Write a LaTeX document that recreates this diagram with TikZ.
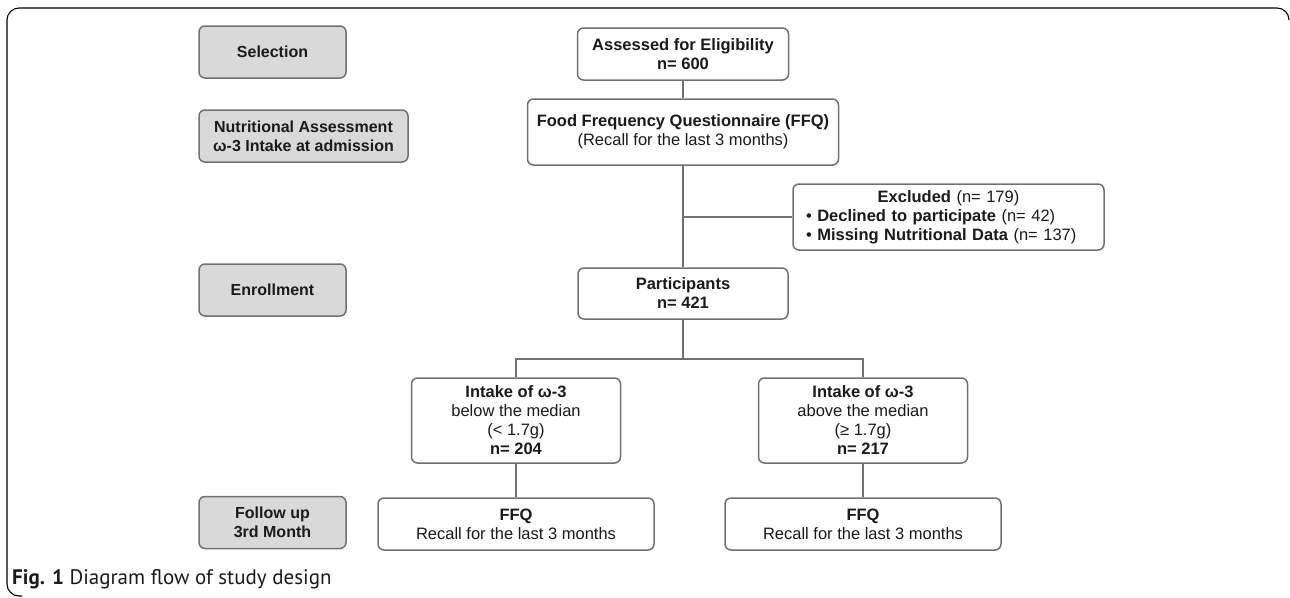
\documentclass[tikz,border=0pt]{standalone}
\usepackage{fontspec}
\setmainfont{Liberation Sans}
\newfontfamily\capfont{PT Sans}
\definecolor{edgegray}{HTML}{707070}
\definecolor{ink}{HTML}{1A1A1A}
\definecolor{stagefill}{HTML}{D9D9D9}
\begin{document}
\begin{tikzpicture}[x=1pt,y=-1pt,
  box/.style={draw=edgegray, line width=1.5pt, rounded corners=6pt, fill=white, text=ink,
    align=center, inner sep=0pt, font=\fontsize{16.5}{19}\selectfont},
  stagebox/.style={box, fill=stagefill, font=\bfseries\fontsize{16}{19}\selectfont},
  link/.style={draw=edgegray, line width=1.5pt}]
\useasboundingbox (0,0) rectangle (1290,597);
% outer frame
\draw[line width=1.1pt, rounded corners=12pt] (22,596) -- (7,596) -- (7,8) -- (1289,8) -- (1289,20);

% stage labels
\node[stagebox, minimum width=147pt, minimum height=52pt] (sel) at (272.5,52) {Selection};
\node[stagebox, minimum width=209pt, minimum height=52pt] (nut) at (303.5,136) {Nutritional Assessment\\ω-3 Intake at admission};
\node[stagebox, minimum width=147pt, minimum height=52pt] (enr) at (272.5,290) {Enrollment};
\node[stagebox, minimum width=147pt, minimum height=52pt] (fol) at (272.5,522.5) {Follow up\\3rd Month};

% flow boxes
\node[box, minimum width=211pt, minimum height=52pt] (ass) at (683,54) {\textbf{Assessed for Eligibility}\\\textbf{n= 600}};
\node[box, minimum width=311pt, minimum height=66pt] (ffq) at (683,132) {\textbf{Food Frequency Questionnaire (FFQ)}\\(Recall for the last 3 months)};
\node[box, minimum width=311pt, minimum height=66pt, text width=285pt, align=left] (exc) at (948.5,217)
  {\makebox[285pt][c]{\textbf{Excluded} (n= 179)}\\
   • \textbf{Declined to participate} (n= 42)\\
   • \textbf{Missing Nutritional Data} (n= 137)};
\node[box, minimum width=210pt, minimum height=51pt] (par) at (683,293.5) {\textbf{Participants}\\\textbf{n= 421}};
\node[box, minimum width=209pt, minimum height=85pt] (below) at (516,420.5)
  {\textbf{Intake of ω-3}\\below the median\\(< 1.7g)\\\textbf{n= 204}};
\node[box, minimum width=209pt, minimum height=85pt] (above) at (863,420.5)
  {\textbf{Intake of ω-3}\\above the median\\(≥ 1.7g)\\\textbf{n= 217}};
\node[box, minimum width=276pt, minimum height=52pt] (ffqL) at (516,524) {\textbf{FFQ}\\Recall for the last 3 months};
\node[box, minimum width=276pt, minimum height=52pt] (ffqR) at (863,524) {\textbf{FFQ}\\Recall for the last 3 months};

% connectors
\coordinate (junc) at (683,217);
\coordinate (split) at (683,359);
\draw[link] (ass.south) -- (ffq.north);
\draw[link] (ffq.south) -- (par.north);
\draw[link] (junc) -- (exc.west);
\draw[link] (par.south) -- (split);
\draw[link] (below.north) |- (split) -| (above.north);
\draw[link] (below.south) -- (ffqL.north);
\draw[link] (above.south) -- (ffqR.north);

% caption
\node[anchor=base west, inner sep=0pt, text=ink, font=\capfont\fontsize{21}{24}\selectfont] (cap) at (12,584)
  {\textbf{Fig. 1} Diagram flow of study design};
\end{tikzpicture}
\end{document}
